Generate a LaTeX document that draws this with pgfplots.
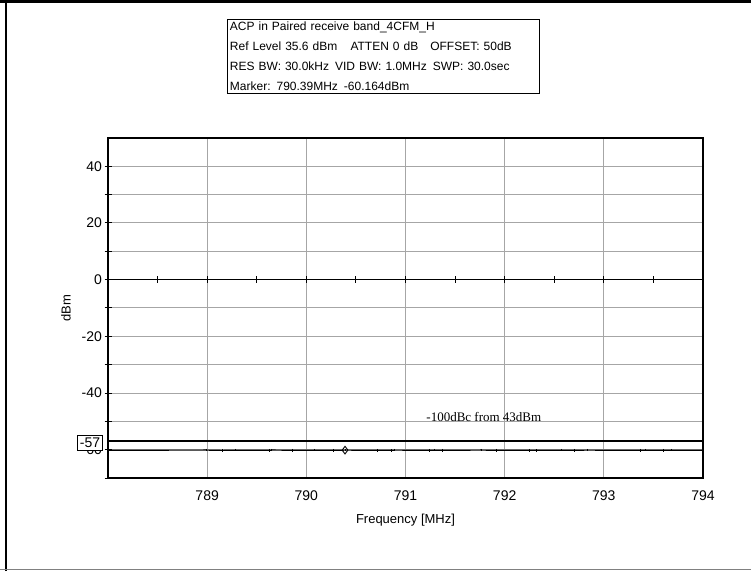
\documentclass[border=0pt]{standalone}
\usepackage{fontspec}
\setmainfont{Liberation Sans}
\newfontfamily\serifrm{Liberation Serif}
\usepackage{pgfplots}
\pgfplotsset{compat=1.18}

\pgfplotstableread{
f      p
788.00 -60.20
788.99 -60.15
789.15 -60.25
789.28 -60.18
789.63 -60.22
789.65 -60.14
789.86 -60.20
790.08 -60.17
790.27 -60.21
790.39 -60.164
790.72 -60.19
790.86 -60.23
790.89 -60.16
791.24 -60.20
791.29 -60.18
791.37 -60.22
791.76 -60.15
791.92 -60.21
792.25 -60.19
792.32 -60.24
792.57 -60.17
792.70 -60.20
792.83 -60.16
793.37 -60.22
793.42 -60.18
793.60 -60.21
793.68 -60.17
794.00 -60.20
}\trace

\begin{document}
\begin{tikzpicture}[x=1pt,y=1pt]
\useasboundingbox (0,0) rectangle (751,571);
% outer frame
\draw[line width=3pt] (0,569.5) -- (751,569.5);
\draw[line width=2pt] (6,0) -- (6,571);
\draw[gray, line width=1pt] (0,1.5) -- (751,1.5);
% info box
\node[draw, line width=0.9pt, anchor=north west, align=left, inner sep=2.5pt,
      font=\fontsize{12}{20}\selectfont, text width=307pt] at (227,552)
  {ACP in Paired receive band\_4CFM\_H\\
   Ref Level 35.6 dBm\hspace{1.1em}ATTEN 0 dB\hspace{1em}OFFSET: 50dB\\
   RES BW: 30.0kHz\hspace{0.5em}VID BW: 1.0MHz\hspace{0.5em}SWP: 30.0sec\\
   Marker: 790.39MHz\hspace{0.5em}-60.164dBm};
\begin{axis}[
  at={(108pt,93pt)}, anchor=south west,
  width=595pt, height=340pt, scale only axis,
  xmin=788, xmax=794, ymin=-70, ymax=50,
  xtick={789,790,791,792,793,794},
  ytick={-60,-40,-20,0,20,40},
  minor ytick={-70,-50,-30,-10,10,30},
  ytick pos=left,
  grid=both,
  major grid style={gray!70, line width=1pt},
  minor grid style={gray!70, line width=1pt},
  axis line style={black, line width=1.3pt},
  xtick style={draw=none},
  ytick style={black, line width=1pt},
  minor tick length=7pt, major tick length=7pt,
  tick align=center,
  xticklabel style={font=\fontsize{14}{16}\selectfont, yshift=-6pt},
  yticklabel style={font=\fontsize{14}{16}\selectfont, xshift=1pt},
  /pgf/number format/assume math mode=true,
  xlabel={Frequency [MHz]}, ylabel={dBm},
  xlabel style={font=\fontsize{13}{15}\selectfont, yshift=-6pt},
  ylabel style={font=\fontsize{13}{15}\selectfont, yshift=4pt},
  clip=false,
]
% zero line with half-MHz ticks
\addplot[black, line width=1.3pt, mark=|, mark size=3.5pt,
  mark options={line width=1pt}] coordinates {
  (788,0) (788.5,0) (789,0) (789.5,0) (790,0) (790.5,0) (791,0)
  (791.5,0) (792,0) (792.5,0) (793,0) (793.5,0) (794,0)};
% limit line
\addplot[black, line width=2.6pt] coordinates {(788,-57) (794,-57)};
% measured trace
\addplot[black, line width=1.2pt, mark=|, mark size=1.3pt,
  mark options={line width=0.7pt}] table[x=f, y=p] {\trace};
% marker
\addplot[black, mark=diamond, mark size=3.8pt, mark options={fill=white, line width=0.9pt},
  only marks] coordinates {(790.39,-60.164)};
\node[font=\serifrm\fontsize{13}{15}\selectfont] at (axis cs:791.79,-48.4)
  {-100dBc from 43dBm};
\node[draw, fill=white, line width=0.9pt, anchor=east, inner sep=2.5pt,
  font=\fontsize{14}{16}\selectfont] at (axis cs:787.95,-57.5) {-57};
\end{axis}
\end{tikzpicture}
\end{document}
